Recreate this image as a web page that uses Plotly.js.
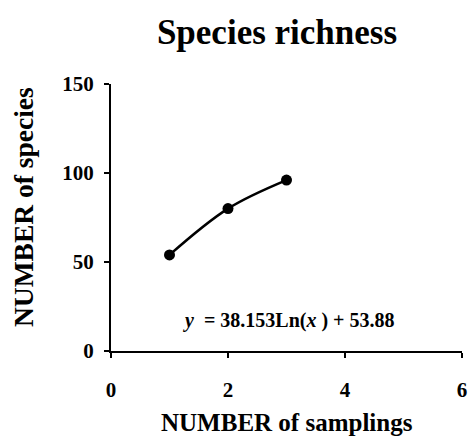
<!DOCTYPE html>
<html>
<head>
<meta charset="utf-8">
<script src="https://cdn.plot.ly/plotly-3.0.1.min.js"></script>
<style>html,body{margin:0;padding:0;background:#fff;}#chart{width:469px;height:437px;}</style>
</head>
<body>
<div id="chart"></div>
<script>
const samplings = [1, 2, 3];
const species = [54, 80, 96];
const xTicks = [0, 2, 4, 6];
const yTicks = [0, 50, 100, 150];
const titleText = 'Species richness';
const xTitleText = 'NUMBER of samplings';
const yTitleText = 'NUMBER of species';
const equationText = '<i>y</i>  = 38.153Ln(<i>x</i> ) + 53.88';

const font = 'Liberation Serif, Times New Roman, serif';

const traces = [
  {
    x: samplings, y: species, type: 'scatter', mode: 'lines',
    line: {color: '#000', width: 2.5, shape: 'spline', smoothing: 1},
    hoverinfo: 'skip', showlegend: false
  },
  {
    x: samplings, y: species, type: 'scatter', mode: 'markers',
    marker: {color: '#000', size: 11},
    showlegend: false
  }
];

const axisCommon = {
  showgrid: false, zeroline: false, showline: true, linecolor: '#000', linewidth: 2,
  ticks: 'outside', ticklen: 5, tickwidth: 2, tickcolor: '#000',
  tickfont: {family: font, size: 21, color: '#000', weight: 'bold'}
};

const layout = {
  width: 469, height: 437,
  margin: {l: 111, r: 7, t: 84, b: 86},
  paper_bgcolor: '#fff', plot_bgcolor: '#fff',
  title: {text: '<b>' + titleText + '</b>', font: {family: font, size: 35, color: '#000'},
          x: 0.5906, xanchor: 'center', y: 0.927, yanchor: 'middle'},
  xaxis: Object.assign({}, axisCommon, {
    range: [0, 6], tickvals: xTicks, ticktext: xTicks.map(String), ticklabelstandoff: 14
  }),
  yaxis: Object.assign({}, axisCommon, {
    range: [0, 150], tickvals: yTicks, ticktext: yTicks.map(String), ticklabelstandoff: 6
  }),
  annotations: [
    {
      text: '<b>' + equationText + '</b>', xref: 'paper', yref: 'paper',
      x: 0.507, y: 0.116, xanchor: 'center', yanchor: 'middle', showarrow: false,
      font: {family: font, size: 20, color: '#000'}
    },
    {
      text: '<b>' + xTitleText + '</b>', xref: 'paper', yref: 'paper',
      x: 0.5, y: -0.266, xanchor: 'center', yanchor: 'middle', showarrow: false,
      font: {family: font, size: 25, color: '#000'}
    },
    {
      text: '<b>' + yTitleText + '</b>', xref: 'paper', yref: 'paper', textangle: -90,
      x: -0.2507, y: 0.539, xanchor: 'center', yanchor: 'middle', showarrow: false,
      font: {family: font, size: 27.5, color: '#000'}
    }
  ]
};

Plotly.newPlot('chart', traces, layout, {displayModeBar: false, staticPlot: true});
</script>
</body>
</html>
